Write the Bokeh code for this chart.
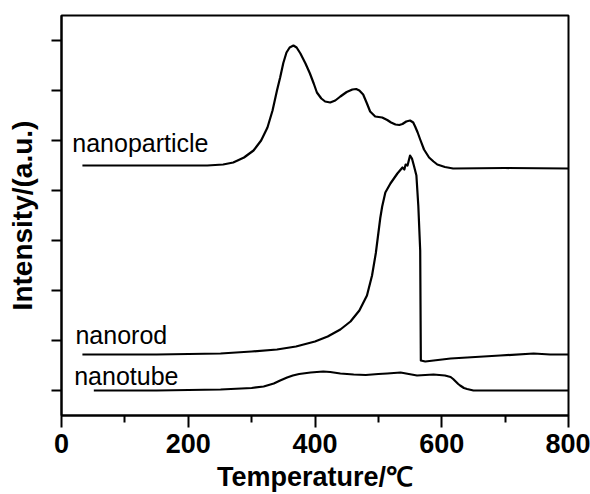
from bokeh.plotting import figure
from bokeh.models import Range1d, FixedTicker, Label, CustomJSTickFormatter
from bokeh.embed import file_html
from bokeh.resources import INLINE

# ---- data ----
particle_t = [33, 150, 230, 255, 271, 288, 303, 315, 325, 333, 340, 345, 350, 355, 360, 366, 371, 377, 385,
              392, 398, 403, 410, 416, 424, 432, 440, 450, 459, 465, 470, 476, 482, 487, 495, 506, 514, 520,
              527, 533, 538, 544, 550, 555, 558, 562, 566, 572, 580, 587, 593, 605, 618, 700, 800]
particle_v = [4.5, 4.5, 4.5, 4.52, 4.56, 4.66, 4.8, 5.0, 5.26, 5.6, 6.0, 6.26, 6.55, 6.76, 6.86, 6.9, 6.86, 6.74, 6.54,
              6.34, 6.14, 5.96, 5.84, 5.78, 5.76, 5.8, 5.88, 5.97, 6.02, 6.03, 6.0, 5.92, 5.74, 5.58, 5.48, 5.46, 5.41, 5.36,
              5.32, 5.31, 5.33, 5.38, 5.4, 5.36, 5.28, 5.16, 5.02, 4.82, 4.66, 4.58, 4.52, 4.47, 4.44, 4.45, 4.44]

rod_t = [33, 150, 251, 300, 340, 370, 400, 420, 440, 456, 470, 482, 490, 496, 500, 503, 506, 511, 519, 530,
         538, 541, 543, 546, 548, 550, 553, 556, 560, 563, 566, 567, 574, 614, 692, 745, 771, 800]
rod_v = [0.72, 0.72, 0.74, 0.78, 0.82, 0.88, 0.98, 1.08, 1.22, 1.38, 1.6, 1.9, 2.3, 2.75, 3.15, 3.45, 3.68, 3.96, 4.14, 4.34,
         4.46, 4.42, 4.52, 4.5, 4.6, 4.7, 4.64, 4.5, 4.3, 3.7, 2.8, 0.6, 0.58, 0.64, 0.7, 0.74, 0.72, 0.72]

tube_t = [51, 150, 251, 300, 319, 335, 345, 356, 365, 375, 393, 413, 424, 440, 461, 480, 500, 514, 535, 561,
          587, 605, 614, 618, 622, 626, 629, 635, 640, 650, 700, 800]
tube_v = [0.0, 0.0, 0.02, 0.05, 0.08, 0.14, 0.2, 0.26, 0.3, 0.33, 0.36, 0.38, 0.37, 0.34, 0.32, 0.31, 0.33, 0.34, 0.36, 0.3,
          0.32, 0.3, 0.27, 0.23, 0.18, 0.13, 0.1, 0.05, 0.03, 0.0, 0.0, 0.0]

series_names = ["nanoparticle", "nanorod", "nanotube"]
x_ticks = [0, 200, 400, 600, 800]
x_minor = [100, 300, 500, 700]
y_ticks = [0, 1, 2, 3, 4, 5, 6, 7]

FONT = "Liberation Sans"

p = figure(width=590, height=494, output_backend="svg", toolbar_location=None,
           x_range=Range1d(0, 800), y_range=Range1d(-0.5, 7.5),
           min_border_left=61, min_border_right=22, min_border_top=15, min_border_bottom=79)

p.background_fill_color = "white"
p.border_fill_color = "white"
p.outline_line_color = "black"
p.outline_line_width = 2
p.xgrid.visible = False
p.ygrid.visible = False

for t, v in [(particle_t, particle_v), (rod_t, rod_v), (tube_t, tube_v)]:
    p.line(t, v, line_color="black", line_width=2.2, line_join="round")

# x axis
xa = p.xaxis[0]
xa.ticker = FixedTicker(ticks=x_ticks, minor_ticks=x_minor)
xa.axis_line_width = 2
xa.major_tick_line_width = 2
xa.minor_tick_line_width = 2
xa.major_tick_out = 12
xa.major_tick_in = 0
xa.minor_tick_out = 7
xa.minor_tick_in = 0
xa.major_label_text_font = FONT
xa.major_label_text_font_style = "bold"
xa.major_label_text_font_size = "27px"
xa.major_label_text_color = "black"
xa.major_label_standoff = 6
xa.axis_label = "Temperature/℃"
xa.axis_label_text_font = FONT
xa.axis_label_text_font_style = "bold"
xa.axis_label_text_font_size = "27px"
xa.axis_label_text_color = "black"
xa.axis_label_standoff = 6

# y axis
ya = p.yaxis[0]
ya.ticker = FixedTicker(ticks=y_ticks, minor_ticks=[])
ya.formatter = CustomJSTickFormatter(code="return ''")
ya.axis_line_width = 2
ya.major_tick_line_width = 2
ya.major_tick_out = 10
ya.major_tick_in = 0
ya.minor_tick_out = 0
ya.minor_tick_in = 0
ya.major_label_standoff = 0
ya.axis_label = "Intensity/(a.u.)"
ya.axis_label_text_font = FONT
ya.axis_label_text_font_style = "bold"
ya.axis_label_text_font_size = "28px"
ya.axis_label_text_color = "black"
ya.axis_label_standoff = 14

# curve labels
label_pos = [(17, 4.96), (22, 1.12), (20, 0.3)]
for name, (lx, ly) in zip(series_names, label_pos):
    p.add_layout(Label(x=lx, y=ly, text=name, text_font=FONT, text_font_size="25px",
                       text_color="black", text_baseline="alphabetic"))

open("out.html", "w").write(file_html(p, INLINE))
